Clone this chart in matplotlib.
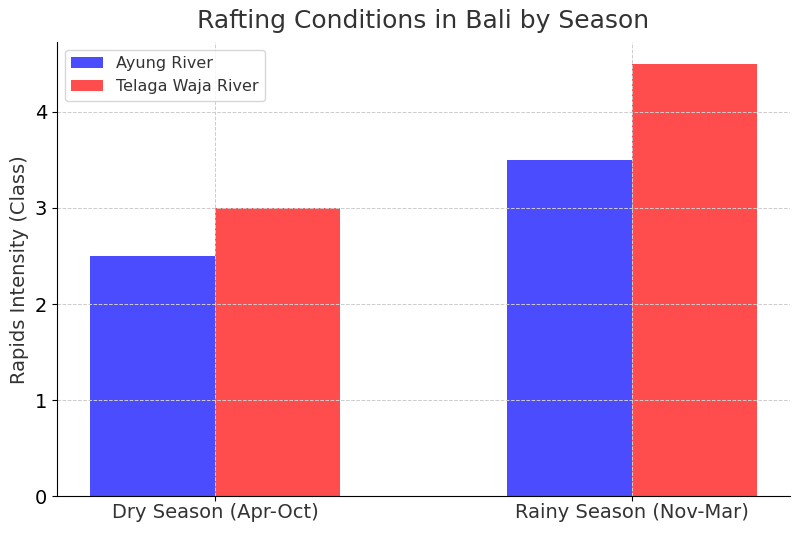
import numpy as np
import matplotlib.pyplot as plt

seasons = ['Dry Season (Apr-Oct)', 'Rainy Season (Nov-Mar)']
ayung = [2.5, 3.5]
telaga = [3.0, 4.5]

x = np.arange(len(seasons))
width = 0.3

fig, ax = plt.subplots(figsize=(8, 5.33), dpi=100)
ax.bar(x - width / 2, ayung, width, label='Ayung River', color='blue', alpha=0.7)
ax.bar(x + width / 2, telaga, width, label='Telaga Waja River', color='red', alpha=0.7)

ax.set_title('Rafting Conditions in Bali by Season', fontsize=18, color='#333333', pad=10)
ax.set_ylabel('Rapids Intensity (Class)', fontsize=14, color='#333333')
ax.set_xticks(x)
ax.set_xticklabels(seasons, fontsize=14, color='#333333')
ax.tick_params(axis='x', pad=1.5)
ax.tick_params(axis='y', labelsize=14)
ax.grid(True, linestyle='--', linewidth=0.7, color='#cccccc')
ax.spines['top'].set_visible(False)
ax.spines['right'].set_visible(False)
leg = ax.legend(loc='upper left', fontsize=11.5)
for t in leg.get_texts():
    t.set_color('#333333')

fig.subplots_adjust(left=0.071, right=0.9875, top=0.921, bottom=0.069)
plt.savefig('out.png')
